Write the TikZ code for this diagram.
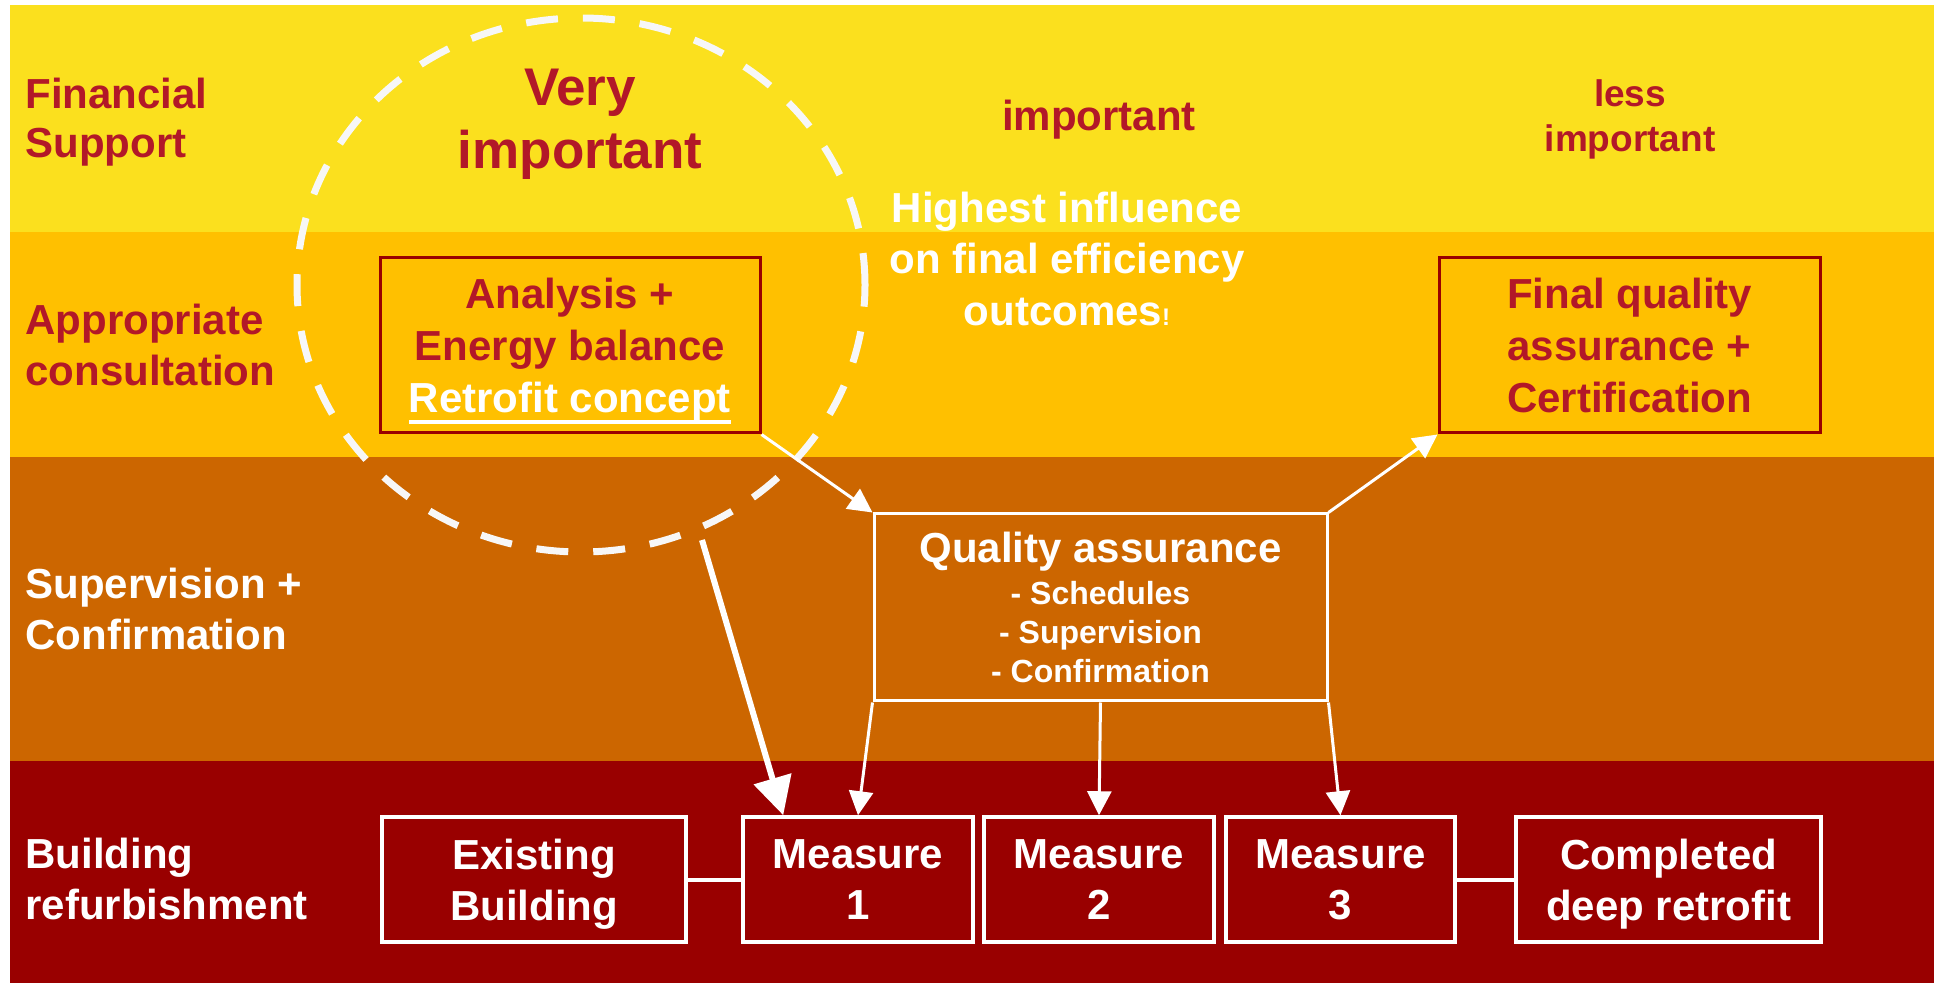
\documentclass[tikz,border=0pt]{standalone}
\usepackage{fontspec}
\setmainfont{Liberation Sans}
\usetikzlibrary{arrows.meta}
\definecolor{bandA}{RGB}{251,224,30}
\definecolor{bandB}{RGB}{255,192,0}
\definecolor{bandC}{RGB}{204,102,0}
\definecolor{bandD}{RGB}{153,0,0}
\definecolor{txtred}{RGB}{178,24,40}
\newcommand{\thickul}[1]{\setbox0\hbox{#1}\rlap{\smash{\rule[-5.5pt]{\wd0}{2pt}}}\box0}
\begin{document}
\begin{tikzpicture}[x=0.5pt,y=-0.5pt,
  lbl/.style={anchor=west, align=left, font=\fontsize{21}{25.5}\selectfont\bfseries, inner sep=0pt},
  redbox/.style={draw=bandD, line width=1.5pt, inner sep=0pt, align=center, font=\fontsize{21}{26}\selectfont\bfseries, text=txtred, text depth=0pt},
  whitebox/.style={draw=white, line width=1.75pt, fill=bandD, inner sep=0pt, align=center, font=\fontsize{21}{25.5}\selectfont\bfseries, text=white, minimum height=62.5pt, text depth=0pt},
  thinarr/.style={draw=white, line width=1.5pt, -{Triangle[length=12pt,width=12pt]}},
  thickarr/.style={draw=white, line width=3pt, -{Triangle[length=19pt,width=19pt]}},
  link/.style={draw=white, line width=2pt}
]
\fill[white] (0,0) rectangle (1934,983);
\useasboundingbox (0,0) rectangle (1934,983);
\fill[bandA] (10,5) rectangle (1934,232);
\fill[bandB] (10,232) rectangle (1934,457);
\fill[bandC] (10,457) rectangle (1934,761);
\fill[bandD] (10,761) rectangle (1934,983);

% row labels
\node[lbl, text=txtred, font=\fontsize{21}{24.5}\selectfont\bfseries] (fs) at (25,122) {Financial\\Support};
\node[lbl, text=txtred] (ac) at (25,345) {Appropriate\\consultation};
\node[lbl, text=white] (sc) at (25,609) {Supervision +\\Confirmation};
\node[lbl, text=white] (br) at (25,879) {Building\\refurbishment};

% importance
\node[font=\fontsize{26.5}{31.5}\selectfont\bfseries, text=txtred, align=center, inner sep=0pt] (vi) at (580,124) {Very\\important};
\node[font=\fontsize{21}{25}\selectfont\bfseries, text=txtred, anchor=base, inner sep=0pt] (imp) at (1099,130.5) {important};
\node[font=\fontsize{18.5}{22.5}\selectfont\bfseries, text=txtred, align=center, inner sep=0pt] (li) at (1630,119.5) {less\\important};
\node[font=\fontsize{21}{25.75}\selectfont\bfseries, text=white, align=center, inner sep=0pt] (hi) at (1067,258.5) {Highest influence\\on final efficiency\\outcomes{\fontsize{12}{14}\selectfont !}};

% dashed ellipse
\draw[white!97!black, line width=3.5pt, dash pattern=on 16pt off 12.5pt] (581,285) ellipse [x radius=142pt, y radius=133.5pt];

% boxes
\node[redbox, minimum width=190pt, minimum height=87.5pt] (analysis) at (570,345.5) {Analysis +\\Energy balance\\\textcolor{white}{\thickul{Retrofit concept}}};
\node[redbox, minimum width=190.5pt, minimum height=87.5pt] (final) at (1629.5,345.5) {Final quality\\assurance +\\Certification};
\node[draw=white, line width=1.5pt, inner sep=0pt, minimum width=226.5pt, minimum height=93.5pt, align=center, text=white, font=\fontsize{16}{19.5}\selectfont\bfseries] (qa) at (1100.5,607.5) {{\fontsize{21}{25}\selectfont Quality assurance}\\[1.5pt]- Schedules\\- Supervision\\- Confirmation};

\node[whitebox, minimum width=152pt] (existing) at (534,879.5) {Existing\\Building};
\node[whitebox, minimum width=115pt] (m1) at (858,879.5) {Measure\\1};
\node[whitebox, minimum width=115pt] (m2) at (1099,879.5) {Measure\\2};
\node[whitebox, minimum width=114.5pt] (m3) at (1340.5,879.5) {Measure\\3};
\node[whitebox, minimum width=152.5pt] (completed) at (1668.5,879.5) {Completed\\deep retrofit};

% connectors
\draw[thinarr] (analysis.south east) -- (qa.north west);
\draw[thinarr] (qa.north east) -- (final.south west);
\draw[thinarr] (qa.south west) -- (m1.north);
\draw[thinarr] (qa.south) -- (m2.north);
\draw[thinarr] (qa.south east) -- (m3.north);
\coordinate (ts) at (702,540);
\draw[thickarr] (ts) -- ([xshift=21pt]m1.north west);
\draw[link] (existing.east) -- (m1.west);
\draw[link] (m3.east) -- (completed.west);
\end{tikzpicture}
\end{document}
